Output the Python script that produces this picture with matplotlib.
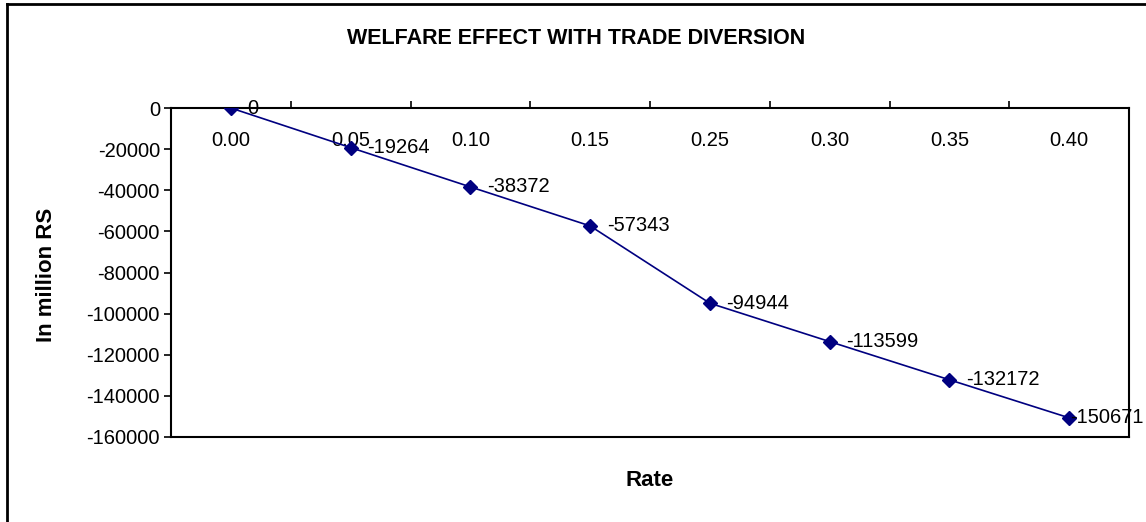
import numpy as np
import matplotlib.pyplot as plt
from matplotlib.lines import Line2D

plt.rcParams['font.family'] = ['Liberation Sans', 'DejaVu Sans']

rates = ['0.00', '0.05', '0.10', '0.15', '0.25', '0.30', '0.35', '0.40']
welfare = [0, -19264, -38372, -57343, -94944, -113599, -132172, -150671]
yticks = [0, -20000, -40000, -60000, -80000, -100000, -120000, -140000, -160000]

fig = plt.figure(figsize=(11.46, 5.22), dpi=100)
ax = fig.add_axes([171 / 1146, 1 - 437 / 522, (1129 - 171) / 1146, (437 - 108) / 522])

x = np.arange(len(rates))
ax.plot(x, welfare, color='#000080', lw=1.2, marker='D', ms=7.5, zorder=3)
for xi, v in zip(x, welfare):
    # last label is pulled back so it stays inside the chart, as Excel does
    dx = 1 if xi == x[-1] else 12
    ax.annotate(str(v), (xi, v), xytext=(dx, 0), textcoords='offset points',
                ha='left', va='center', fontsize=14.5, zorder=4)

ax.set_xlim(-0.5, len(rates) - 0.5)
ax.set_ylim(-160000, 0)
ax.set_yticks(yticks)
ax.set_yticklabels([str(t) for t in yticks], fontsize=14.5)
ax.tick_params(axis='y', direction='out', length=5, width=1.2, pad=3)

# category axis sits at y=0 (top), labels hang below it
ax.xaxis.tick_top()
ax.set_xticks(x)
ax.set_xticklabels(rates, fontsize=14.5)
ax.tick_params(axis='x', which='major', length=0, pad=-30)
ax.set_xticks(x[:-1] + 0.5, minor=True)
ax.tick_params(axis='x', which='minor', direction='out', length=5, width=1.2)

for s in ax.spines.values():
    s.set_linewidth(1.5)
    s.set_color('black')

fig.text(0.503, 1 - 38 / 522, 'WELFARE EFFECT WITH TRADE DIVERSION',
         ha='center', va='center', fontsize=15.5, fontweight='bold')
fig.text(47 / 1146, 1 - 275 / 522, 'In million RS', rotation=90,
         ha='center', va='center', fontsize=16, fontweight='bold')
fig.text(650 / 1146, 1 - 481 / 522, 'Rate', ha='center', va='center',
         fontsize=16, fontweight='bold')

# chart area frame (only left and top edges visible)
fig.add_artist(Line2D([7 / 1146, 7 / 1146], [0, 1 - 4 / 522], color='black', lw=2))
fig.add_artist(Line2D([7 / 1146, 1], [1 - 4 / 522, 1 - 4 / 522], color='black', lw=2))

fig.savefig('out.png', dpi=100)
